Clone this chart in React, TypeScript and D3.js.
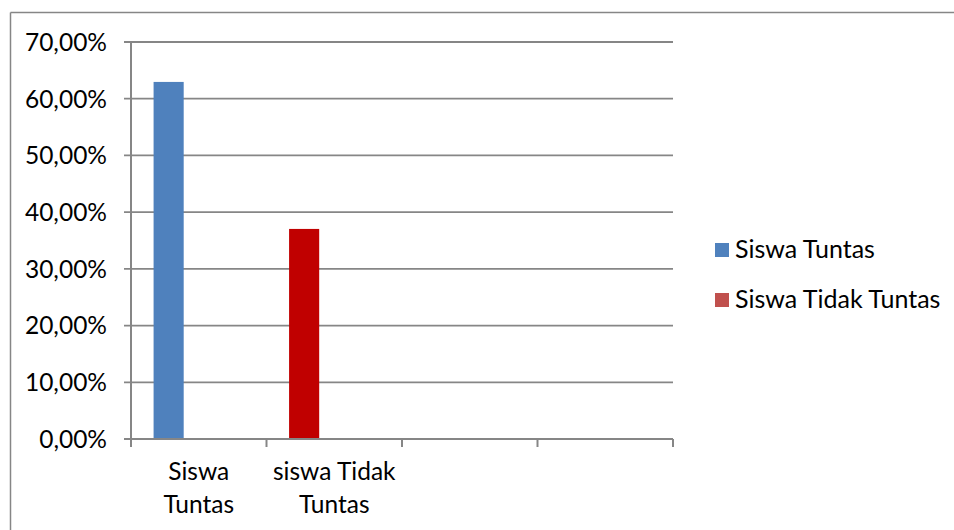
import React from "react";
import * as d3 from "d3";

const categories = ["Siswa Tuntas", "siswa Tidak Tuntas", "", ""];
const categoryLines = [["Siswa", "Tuntas"], ["siswa Tidak", "Tuntas"], [], []];
const values: (number | null)[] = [62.96, 37.04, null, null];
const barColors = ["#4F81BD", "#C00000", "#4F81BD", "#4F81BD"];
const yTicks = [0, 10, 20, 30, 40, 50, 60, 70];
const legendLabels = ["Siswa Tuntas", "Siswa Tidak Tuntas"];
const legendColors = ["#4F81BD", "#C0504D"];
const slots = ["a", "b", "c"];

const W = 954;
const H = 530;
const FONT = "Lato, 'Open Sans', sans-serif";
const AXIS = "#868686";

export default function App() {
  const x = d3.scaleBand<string>().domain(categories.map((c, i) => String(i))).range([131, 673]).padding(0);
  const sub = d3.scaleBand<string>().domain(slots).range([0, x.bandwidth()]).paddingInner(0).paddingOuter(0.75);
  const y = d3.scaleLinear().domain([0, 70]).range([439, 42]);
  const fmt = (v: number) => v.toFixed(2).replace(".", ",") + "%";
  const boundaries = d3.range(categories.length + 1).map((i) => 131 + i * x.step());

  return (
    <svg width={W} height={H} style={{ position: "absolute", left: 0, top: 0, background: "#fff", overflow: "hidden" }}>
      <line x1={10.5} x2={10.5} y1={12.5} y2={H} stroke={AXIS} strokeWidth={1.5} />
      <line x1={10.5} x2={W} y1={12.5} y2={12.5} stroke={AXIS} strokeWidth={1.5} />
      {yTicks.map((t) => (
        <g key={t}>
          <line x1={124} x2={673} y1={y(t)} y2={y(t)} stroke={AXIS} strokeWidth={1.8} />
          <text x={107} y={y(t)} dy="0.36em" textAnchor="end" fontFamily={FONT} fontSize={24.5} fill="#000">
            {fmt(t)}
          </text>
        </g>
      ))}
      {values.map((v, i) =>
        v == null ? null : (
          <rect
            key={i}
            x={(x(String(i)) as number) + (sub("a") as number)}
            y={y(v)}
            width={sub.bandwidth()}
            height={y(0) - y(v)}
            fill={barColors[i]}
          />
        )
      )}
      <line x1={131} x2={131} y1={42} y2={439} stroke={AXIS} strokeWidth={2} />
      <line x1={131} x2={673} y1={439} y2={439} stroke={AXIS} strokeWidth={2} />
      {boundaries.map((b, i) => (
        <line key={i} x1={b} x2={b} y1={439} y2={447} stroke={AXIS} strokeWidth={2} />
      ))}
      {categoryLines.map((lines, i) =>
        lines.map((ln, j) => (
          <text
            key={i + "-" + j}
            x={(x(String(i)) as number) + x.bandwidth() / 2}
            y={480 + j * 33}
            textAnchor="middle"
            fontFamily={FONT}
            fontSize={24.5}
            fill="#000"
          >
            {ln}
          </text>
        ))
      )}
      {legendLabels.map((l, i) => (
        <g key={l} transform={`translate(715, ${243 + i * 50})`}>
          <rect x={0} y={0} width={14} height={14} fill={legendColors[i]} />
          <text x={20} y={14.5} fontFamily={FONT} fontSize={25} fill="#000">
            {l}
          </text>
        </g>
      ))}
    </svg>
  );
}
